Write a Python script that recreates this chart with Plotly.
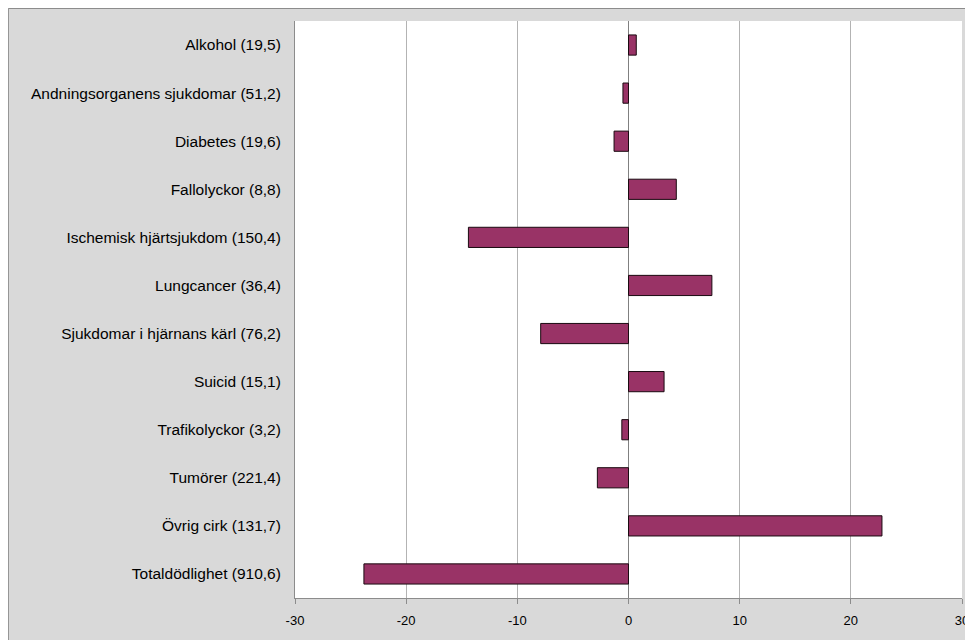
import plotly.graph_objects as go

categories = [
    "Alkohol (19,5)",
    "Andningsorganens sjukdomar (51,2)",
    "Diabetes (19,6)",
    "Fallolyckor (8,8)",
    "Ischemisk hjärtsjukdom (150,4)",
    "Lungcancer (36,4)",
    "Sjukdomar i hjärnans kärl (76,2)",
    "Suicid (15,1)",
    "Trafikolyckor (3,2)",
    "Tumörer (221,4)",
    "Övrig cirk (131,7)",
    "Totaldödlighet (910,6)",
]
values = [0.7, -0.5, -1.3, 4.3, -14.4, 7.5, -7.9, 3.2, -0.6, -2.8, 22.8, -23.8]
tick_vals = [-30, -20, -10, 0, 10, 20, 30]
tick_text = ["-30", "-20", "-10", "0", "10", "20", "30"]

fig = go.Figure()
fig.add_trace(go.Bar(
    x=values, y=categories, orientation="h",
    width=0.42,
    marker=dict(color="#993366", line=dict(color="#1a0a10", width=1)),
))

# figure-pixel geometry (page body adds an 8px offset)
L, R, T, B = 287, 17, 13, 50

fig.update_layout(
    width=973, height=640,
    margin=dict(l=L, r=R, t=T, b=B),
    paper_bgcolor="#d9d9d9",
    plot_bgcolor="white",
    showlegend=False,
    font=dict(family="Liberation Sans, Arial, sans-serif", color="black"),
    shapes=[
        dict(type="rect", xref="paper", yref="paper", layer="below",
             x0=-0.5 / 669 - L / 669, x1=1.2, y0=-0.2,
             y1=1 + (T - 0.5) / 577,
             fillcolor="#d9d9d9", line=dict(color="#8c8c8c", width=1)),
        dict(type="rect", xref="paper", yref="paper", layer="below",
             x0=0, x1=1, y0=0, y1=1,
             fillcolor="white", line=dict(width=0)),
    ],
    xaxis=dict(
        range=[-30, 30],
        tickvals=tick_vals, ticktext=tick_text,
        showgrid=True, gridcolor="#b3b3b3", gridwidth=1,
        zeroline=True, zerolinecolor="#808080", zerolinewidth=1,
        showline=True, linecolor="#8c8c8c", linewidth=1,
        ticks="outside", ticklen=5, tickcolor="#8c8c8c",
        tickfont=dict(size=13, color="black"),
        ticklabelstandoff=5,
    ),
    yaxis=dict(
        categoryorder="array", categoryarray=categories,
        autorange="reversed",
        showgrid=False, zeroline=False,
        showline=True, linecolor="#8c8c8c", linewidth=1,
        ticks="", tickfont=dict(size=15.5, color="black"),
        ticklabelstandoff=10,
    ),
)

fig.write_html("out.html")
